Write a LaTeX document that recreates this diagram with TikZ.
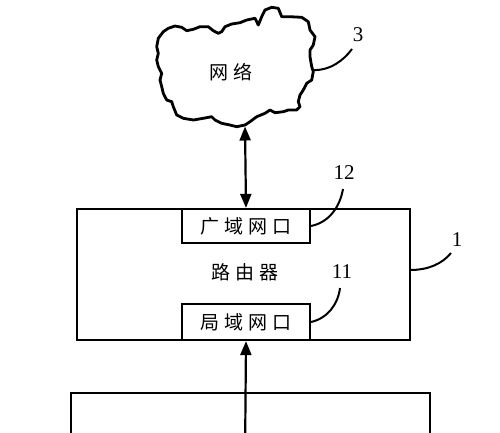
\documentclass[tikz,border=0pt]{standalone}
\usepackage{fontspec}
\newfontfamily\cjk{Noto Sans CJK SC}
\newfontfamily\numfont{Liberation Serif}
\usetikzlibrary{arrows.meta}
\tikzset{
  box/.style={draw, line width=2.2pt, inner sep=0pt, fill=white},
  cjklabel/.style={font=\cjk\fontsize{19}{22}\selectfont, inner sep=0pt},
  numlabel/.style={font=\numfont\fontsize{21}{24}\selectfont, inner sep=0pt},
  leader/.style={line width=2pt},
  conn/.style={line width=2.2pt},
  tip/.style={-{Triangle[length=14pt,width=11pt]}},
  dtip/.style={{Triangle[length=14pt,width=11pt]}-{Triangle[length=14pt,width=11pt]}}
}
\begin{document}
\begin{tikzpicture}[x=1pt,y=-1pt]
\useasboundingbox (0,0) rectangle (500,432);
\clip (0,0) rectangle (500,432);
% cloud
\draw[line width=2.8pt, line join=round]
 (163.3,31.7) -- (168.3,28.3) -- (175,26) -- (181.7,27.3) -- (186.7,30.7) -- (193.3,29.3)
 -- (200,26.7) -- (208.3,26.7) -- (213.3,30.7) -- (218.3,33.3) -- (221.7,31.7) -- (225,26.7)
 -- (231.7,24) -- (240,22.7) -- (246.7,20) -- (255,18.3) -- (258.3,25) -- (261.7,16.7)
 -- (265,10) -- (271.7,7.3) -- (278.3,8.3) -- (281.7,16.7) -- (290,16.7) -- (301.7,17.3)
 -- (308.3,21.7) -- (310,30) -- (315,36.7) -- (313.3,45) -- (310,50) -- (310,56.7)
 -- (311.7,66.7) -- (313.3,71.7) -- (311.7,80) -- (306.7,83.3) -- (303.3,90) -- (300,95)
 -- (298.3,101.7) -- (300,106.7) -- (296.7,110) -- (288.3,110) -- (283.3,111.7) -- (275,112.7)
 -- (270,110) -- (265,113.3) -- (256.7,116.7) -- (250,121.7) -- (245,125) -- (236.7,126.7)
 -- (230,125) -- (221.7,123.3) -- (215,120) -- (211.7,116.7) -- (203.3,118.3) -- (193.3,120)
 -- (183.3,118.3) -- (176.7,115) -- (173.3,106.7) -- (171.7,101.7) -- (166.7,100) -- (163.3,93.3)
 -- (161.7,86.7) -- (160,80) -- (161.7,73.3) -- (158.3,66.7) -- (156.7,60) -- (158.3,53.3)
 -- (156.7,46.7) -- (158.3,38.3) -- cycle;
\node[cjklabel] (net) at (231,72) {网\hspace{6pt}络};
\coordinate (cloudbot) at (245,126.5);
\coordinate (cloudright) at (312.5,70);
% router
\node[box, minimum width=333pt, minimum height=131pt] (router) at (243.5,274.5) {};
\node[cjklabel] (rlabel) at (245,272) {路\hspace{5pt}由\hspace{5pt}器};
\node[box, minimum width=128pt, minimum height=34pt] (wan) at (246,226) {\cjk\fontsize{19}{22}\selectfont 广\hspace{5pt}域\hspace{5pt}网\hspace{5pt}口};
\node[box, minimum width=128pt, minimum height=36pt] (lan) at (246,322) {\cjk\fontsize{19}{22}\selectfont 局\hspace{5pt}域\hspace{5pt}网\hspace{5pt}口};
% bottom device
\node[box, anchor=north west, minimum width=359pt, minimum height=100pt] (dev) at (70,392) {};
% connectors
\draw[conn, dtip] (cloudbot) -- (wan.north);
\coordinate (devin) at (245,460);
\draw[conn, tip] (devin) -- (lan.south);
% labels
\node[numlabel] (n3) at (358,35) {3};
\coordinate (n3end) at (352,49);
\draw[leader] (cloudright) .. controls (330,71) and (344,60) .. (n3end);
\node[numlabel] (n12) at (344,173) {12};
\coordinate (n12end) at (343,189);
\draw[leader] (wan.east) .. controls (330,222) and (340,206) .. (n12end);
\node[numlabel] (n1) at (457,240) {1};
\coordinate (n1end) at (451,253);
\coordinate (rr) at (410,270);
\draw[leader] (rr) .. controls (428,270) and (442,264) .. (n1end);
\node[numlabel] (n11) at (342,272) {11};
\coordinate (n11end) at (340,288);
\draw[leader] (lan.east) .. controls (328,318) and (338,304) .. (n11end);
\end{tikzpicture}
\end{document}
